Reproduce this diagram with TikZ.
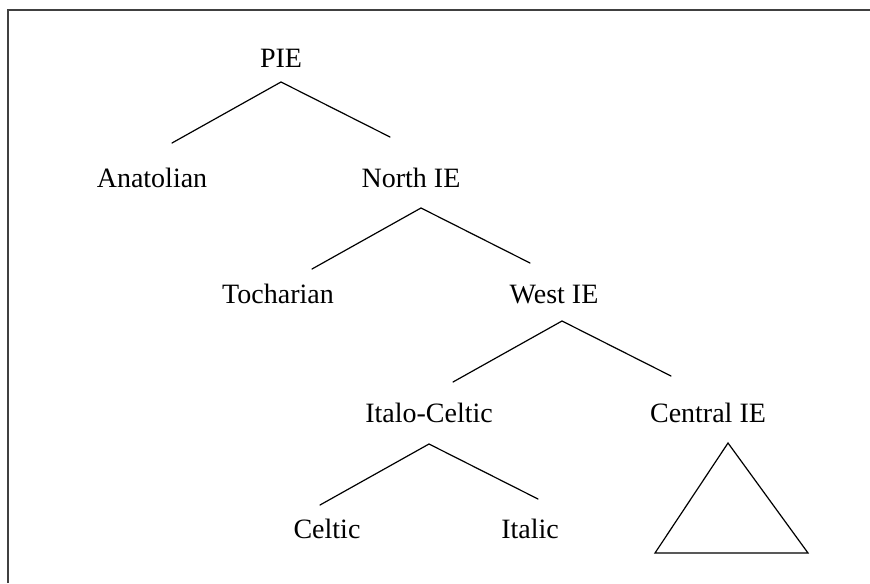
\documentclass[tikz,border=0pt]{standalone}
\usepackage{fontspec}
\setmainfont{Liberation Serif}
\usetikzlibrary{calc}

\newcommand{\forkat}[1]{%
  \draw[branch] (#1) -- +(-109,61) (#1) -- +(109,55);}

\begin{document}
\begin{tikzpicture}[
  x=0.5pt, y=-0.5pt,
  lang/.style={anchor=base, inner sep=0pt, font=\fontsize{14}{16}\selectfont},
  branch/.style={line width=0.6pt, line cap=round},
  frame/.style={line width=0.8pt, draw=black!75}
]
\useasboundingbox (0,0) rectangle (870,583);
% frame
\draw[frame] (8,583) -- (8,10) -- (870,10);

% languages
\node[lang] (pie)     at (281,68)  {PIE};
\node[lang] (anat)    at (152,187) {Anatolian};
\node[lang] (north)   at (411,187) {North IE};
\node[lang] (toch)    at (278,303) {Tocharian};
\node[lang] (west)    at (554,303) {West IE};
\node[lang] (italo)   at (429,422) {Italo-Celtic};
\node[lang] (central) at (708,422) {Central IE};
\node[lang] (celtic)  at (327,538) {Celtic};
\node[lang] (italic)  at (530,538) {Italic};

% forks
\coordinate (pie-fork)   at ($(pie.base)+(0,14)$);
\coordinate (north-fork) at ($(north.base)+(10,21)$);
\coordinate (west-fork)  at ($(west.base)+(8,18)$);
\coordinate (italo-fork) at ($(italo.base)+(0,22)$);
\coordinate (central-top) at ($(central.base)+(20,21)$);

\forkat{pie-fork}
\forkat{north-fork}
\forkat{west-fork}
\forkat{italo-fork}
\draw[branch, line join=miter] (central-top) -- +(-73,110) -- +(80,110) -- cycle;
\end{tikzpicture}
\end{document}
